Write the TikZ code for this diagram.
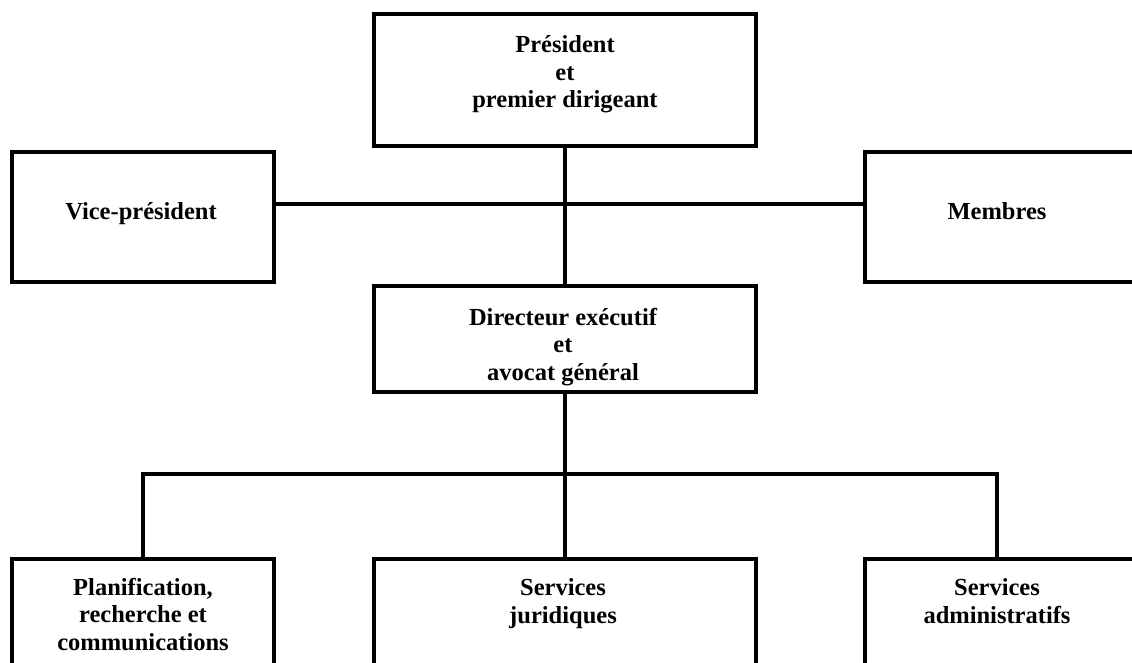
\documentclass[tikz,border=0pt]{standalone}
\usepackage{fontspec}
\setmainfont{Liberation Serif}
\begin{document}
\begin{tikzpicture}[x=1pt,y=-1pt,
  box/.style={draw=black, line width=4pt, inner sep=0pt, fill=white},
  lbl/.style={align=center, inner sep=0pt, anchor=base, font=\fontsize{24.5}{27.5}\selectfont\bfseries},
  conn/.style={draw=black, line width=4pt}]
\useasboundingbox (0,0) rectangle (1132,663);
\clip (0,0) rectangle (1132,663);
% boxes
\node[box, minimum width=382pt, minimum height=132pt] (pres) at (565,80) {};
\node[box, minimum width=262pt, minimum height=130pt] (vp) at (143,217) {};
\node[box, minimum width=275pt, minimum height=130pt] (mem) at (1002.5,217) {};
\node[box, minimum width=382pt, minimum height=106pt] (dir) at (565,339) {};
\node[box, minimum width=262pt, minimum height=130pt] (b1) at (143,624) {};
\node[box, minimum width=382pt, minimum height=130pt] (b2) at (565,624) {};
\node[box, minimum width=275pt, minimum height=130pt] (b3) at (1002.5,624) {};
% labels (anchor = baseline of last line)
\node[lbl] (tpres) at (565,108) {Président\\et\\premier dirigeant};
\node[lbl] (tvp) at (141,219) {Vice-président};
\node[lbl] (tmem) at (997,219) {Membres};
\node[lbl] (tdir) at (563,380) {Directeur exécutif\\et\\avocat général};
\node[lbl] (tb1) at (143,650) {Planification,\\recherche et\\communications};
\node[lbl] (tb2) at (563,623) {Services\\juridiques};
\node[lbl] (tb3) at (997,623) {Services\\administratifs};
% connectors
\coordinate (hl) at (565,204);
\coordinate (j) at (565,474);
\coordinate (jr) at (997,474);
\coordinate (br) at (997,559);
\draw[conn] (pres.south) -- (dir.north);
\draw[conn] (vp.east |- hl) -- (mem.west |- hl);
\draw[conn] (dir.south) -- (j);
\draw[conn] (b1.north) -- (b1.north |- j) -- (jr) -- (br);
\draw[conn] (j) -- (b2.north);
\end{tikzpicture}
\end{document}
